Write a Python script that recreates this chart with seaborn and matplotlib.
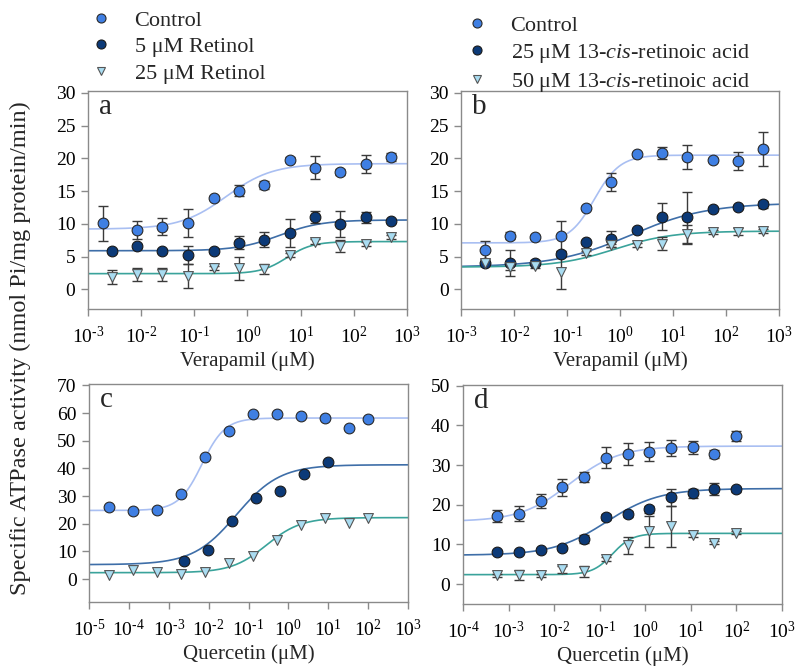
import numpy as np
import pandas as pd
import matplotlib
matplotlib.use("Agg")
import matplotlib.pyplot as plt
from matplotlib.lines import Line2D
import seaborn as sns

# ---------------- data ----------------
# Verapamil concentrations (uM)
ver_x = [0.0028, 0.0085, 0.025, 0.076, 0.23, 0.69, 2.06, 6.2, 18.5, 56, 167, 500]
ver_x_ctrl_a = [0.0019, 0.0085, 0.025, 0.076, 0.23, 0.69, 2.06, 6.2, 18.5, 56, 167, 500]

# panel a: retinol
a_ctrl = [10.1, 9.1, 9.6, 10.1, 14.0, 15.1, 16.0, 19.8, 18.6, 17.9, 19.1, 20.2]
a_ctrl_err = [2.7, 1.4, 1.3, 2.1, 0.3, 0.9, 0.6, 0.4, 1.7, 0.5, 1.4, 0.6]
a_ret5 = [5.9, 6.6, 5.9, 5.2, 5.8, 7.1, 7.6, 8.6, 11.0, 10.0, 11.0, 10.5]
a_ret5_err = [0.3, 0.3, 0.3, 1.4, 0.3, 1.0, 1.2, 2.2, 0.9, 2.0, 0.8, 0.3]
a_ret25 = [1.9, 2.3, 2.3, 2.0, 3.3, 3.2, 3.1, 5.3, 7.3, 6.6, 6.9, 8.0]
a_ret25_err = [1.1, 1.0, 1.0, 1.8, 0.3, 1.8, 0.7, 0.3, 0.4, 0.9, 0.3, 0.3]

# panel b: 13-cis-retinoic acid
b_ctrl = [6.0, 8.2, 8.0, 8.1, 12.5, 16.4, 20.7, 20.8, 20.2, 19.7, 19.6, 21.4]
b_ctrl_err = [1.4, 0.5, 0.3, 2.3, 0.3, 1.4, 0.3, 0.9, 1.8, 0.3, 1.4, 2.6]
b_cis25 = [4.1, 4.0, 4.1, 5.4, 7.2, 7.7, 9.1, 11.1, 11.0, 12.3, 12.6, 13.0]
b_cis25_err = [0.3, 2.0, 0.4, 0.4, 0.3, 1.2, 0.3, 2.1, 3.9, 0.3, 0.3, 0.5]
b_cis50 = [4.1, 3.4, 3.5, 2.6, 5.5, 6.7, 6.8, 7.0, 8.4, 8.8, 8.8, 8.9]
b_cis50_err = [0.3, 0.5, 0.3, 2.6, 0.3, 0.3, 0.3, 1.0, 1.4, 0.3, 0.5, 0.3]

# panel c: quercetin, retinol
qc_x = [3.2e-5, 1.27e-4, 5.1e-4, 2.0e-3, 8.1e-3, 0.033, 0.13, 0.52, 2.1, 8.3, 33, 100]
qc_x_ret5 = [2.4e-3, 9.5e-3, 0.038, 0.155, 0.62, 2.45, 10.0]
c_ctrl = [26.1, 24.5, 24.8, 30.7, 44.0, 53.6, 59.6, 59.8, 59.1, 58.2, 54.7, 57.9]
c_ret5 = [6.4, 10.5, 21.0, 29.3, 32.0, 37.9, 42.2]
c_ret25 = [1.3, 3.4, 2.4, 1.8, 2.4, 5.7, 8.5, 14.0, 19.4, 22.1, 20.4, 22.2]

# panel d: quercetin, 13-cis-retinoic acid
qd_x = [0.00056, 0.0017, 0.0051, 0.015, 0.046, 0.137, 0.41, 1.23, 3.7, 11, 33, 100]
d_ctrl = [17.1, 17.8, 21.0, 24.4, 27.0, 31.9, 32.8, 33.4, 34.3, 34.5, 32.8, 37.4]
d_ctrl_err = [1.5, 1.9, 1.7, 2.2, 1.2, 2.7, 2.7, 2.4, 2.1, 1.6, 1.0, 1.2]
d_cis25 = [8.1, 8.1, 8.7, 9.2, 11.4, 17.0, 17.7, 18.9, 21.9, 22.9, 23.9, 23.9]
d_cis25_err = [0.4, 0.4, 0.4, 0.5, 0.9, 0.8, 0.8, 0.9, 2.2, 1.1, 1.5, 0.6]
d_cis50 = [2.2, 2.3, 2.2, 3.7, 3.2, 6.3, 9.8, 13.3, 14.6, 12.3, 10.4, 13.0]
d_cis50_err = [0.4, 1.2, 0.4, 1.0, 1.4, 0.5, 2.1, 4.0, 5.2, 0.5, 0.4, 0.4]

# fitted sigmoid parameters: bottom, top, EC50, Hill slope
fit_a = [(9.2, 19.2, 0.4, 1.0), (5.9, 10.6, 4.0, 1.1), (2.4, 7.3, 5.5, 1.8)]
fit_b = [(7.1, 20.5, 0.33, 1.8), (3.4, 13.2, 1.6, 0.6), (3.4, 8.9, 0.8, 0.8)]
fit_c = [(24.8, 58.2, 0.0068, 1.5), (5.2, 41.3, 0.05, 0.8), (2.3, 22.2, 0.28, 1.0)]
fit_d = [(15.8, 34.8, 0.022, 0.8), (7.3, 24.1, 0.14, 0.75), (2.4, 12.8, 0.19, 2.0)]

labels_a = ["Control", "5 \u03bcM Retinol", "25 \u03bcM Retinol"]
labels_b = ["Control", "25 \u03bcM 13-$\\mathit{cis}$-retinoic acid",
            "50 \u03bcM 13-$\\mathit{cis}$-retinoic acid"]

# ---------------- style ----------------
sns.set_theme(style="white")
plt.rcParams["font.family"] = ["Liberation Serif", "DejaVu Serif"]
plt.rcParams["mathtext.fontset"] = "custom"
plt.rcParams["mathtext.rm"] = "Liberation Serif"
plt.rcParams["mathtext.it"] = "Liberation Serif:italic"
plt.rcParams["axes.unicode_minus"] = False

MARK_FACE = ["#3f7fe3", "#0c3a78", "#a9dcf1"]
MARK_EDGE = ["#2a2a2a", "#1a1a1a", "#555555"]
MARKERS = ["o", "o", "v"]
LINE_COL = ["#a9bff2", "#3e6ea8", "#3aa39b"]
SPINE = "#8a8a8a"
TICK_FS = 14

W, H = 797, 671
fig = plt.figure(figsize=(W / 100, H / 100), dpi=100)
fig.patch.set_facecolor("white")


def box(l, t, r, b):
    return [l / W, 1 - b / H, (r - l) / W, (b - t) / H]


def hill(x, p):
    bot, top, ec50, n = p
    return bot + (top - bot) / (1 + (ec50 / x) ** n)


def dec_label(d):
    if d < 0:
        return "$10^{\\text{-}%d}$" % (-d)
    return "$10^{%d}$" % d


def panel(rect, letter, xlim, ylim, yticks, series, fits, xlabel):
    ax = fig.add_axes(rect)
    ax.set_facecolor("white")
    xs = np.logspace(np.log10(xlim[0]), np.log10(xlim[1]), 400)
    for i, p in enumerate(fits):
        sns.lineplot(x=xs, y=hill(xs, p), ax=ax, color=LINE_COL[i], lw=1.2,
                     zorder=2, legend=False)
    for i, (x, y, e) in enumerate(series):
        if e is not None:
            ax.errorbar(x, y, yerr=e, fmt="none", ecolor="#3a3a3a",
                        elinewidth=1.0, capsize=3.5, capthick=1.0, zorder=3)
        sns.scatterplot(x=x, y=y, ax=ax, marker=MARKERS[i],
                        color=MARK_FACE[i], edgecolor=MARK_EDGE[i],
                        linewidth=0.8, s=60 if MARKERS[i] == "o" else 50,
                        zorder=4, legend=False)
    ax.set_xscale("log")
    ax.set_xlim(*xlim)
    ax.set_ylim(*ylim)
    ax.set_yticks(yticks)
    dec = np.arange(int(round(np.log10(xlim[0]))), int(round(np.log10(xlim[1]))) + 1)
    ax.set_xticks([10.0 ** d for d in dec])
    ax.set_xticklabels([dec_label(d) for d in dec])
    ax.xaxis.set_minor_locator(matplotlib.ticker.NullLocator())
    ax.tick_params(axis="both", which="major", direction="out", length=5,
                   width=1, color=SPINE, labelsize=TICK_FS, labelcolor="black",
                   pad=4, bottom=True, left=True)
    ax.tick_params(axis="x", pad=7)
    for s in ax.spines.values():
        s.set_color(SPINE)
        s.set_linewidth(1.0)
    ax.set_xlabel(xlabel, fontsize=15, labelpad=3)
    ax.set_ylabel("")
    ax.text(0.035, 0.925, letter, transform=ax.transAxes, fontsize=21,
            va="center", ha="left")
    return ax


panel(box(88, 91, 407, 309), "a", (1e-3, 1e3), (-3, 30.3), range(0, 31, 5),
      [(ver_x_ctrl_a, a_ctrl, a_ctrl_err), (ver_x, a_ret5, a_ret5_err),
       (ver_x, a_ret25, a_ret25_err)], fit_a, "Verapamil (\u03bcM)")
panel(box(461, 91, 779, 309), "b", (1e-3, 1e3), (-3, 30.3), range(0, 31, 5),
      [(ver_x, b_ctrl, b_ctrl_err), (ver_x, b_cis25, b_cis25_err),
       (ver_x, b_cis50, b_cis50_err)], fit_b, "Verapamil (\u03bcM)")
panel(box(89, 384, 408, 602), "c", (1e-5, 1e3), (-8.3, 70.5), range(0, 71, 10),
      [(qc_x, c_ctrl, None), (qc_x_ret5, c_ret5, None), (qc_x, c_ret25, None)],
      fit_c, "Quercetin (\u03bcM)")
panel(box(463, 385, 782, 604), "d", (1e-4, 1e3), (-5, 50.2), range(0, 51, 10),
      [(qd_x, d_ctrl, d_ctrl_err), (qd_x, d_cis25, d_cis25_err),
       (qd_x, d_cis50, d_cis50_err)], fit_d, "Quercetin (\u03bcM)")


def handles():
    return [Line2D([], [], ls="none", marker=MARKERS[i], markersize=6.5 if i < 2 else 6,
                   markerfacecolor=MARK_FACE[i], markeredgecolor=MARK_EDGE[i],
                   markeredgewidth=0.8) for i in range(3)]


leg_kw = dict(frameon=False, fontsize=16, handletextpad=1.0, labelspacing=0.27,
              handlelength=1.0, borderpad=0, loc="upper left")
fig.legend(handles(), labels_a, bbox_to_anchor=(79 / W, 1 + 1 / H), **leg_kw)
fig.legend(handles(), labels_b, bbox_to_anchor=(455 / W, 1 - 4 / H), **leg_kw)

fig.text(20 / W, 1 - 348 / H, "Specific ATPase activity (nmol Pi/mg protein/min)",
         rotation=90, va="center", ha="center", fontsize=17.5)

fig.savefig("out.png", dpi=100, facecolor="white")
